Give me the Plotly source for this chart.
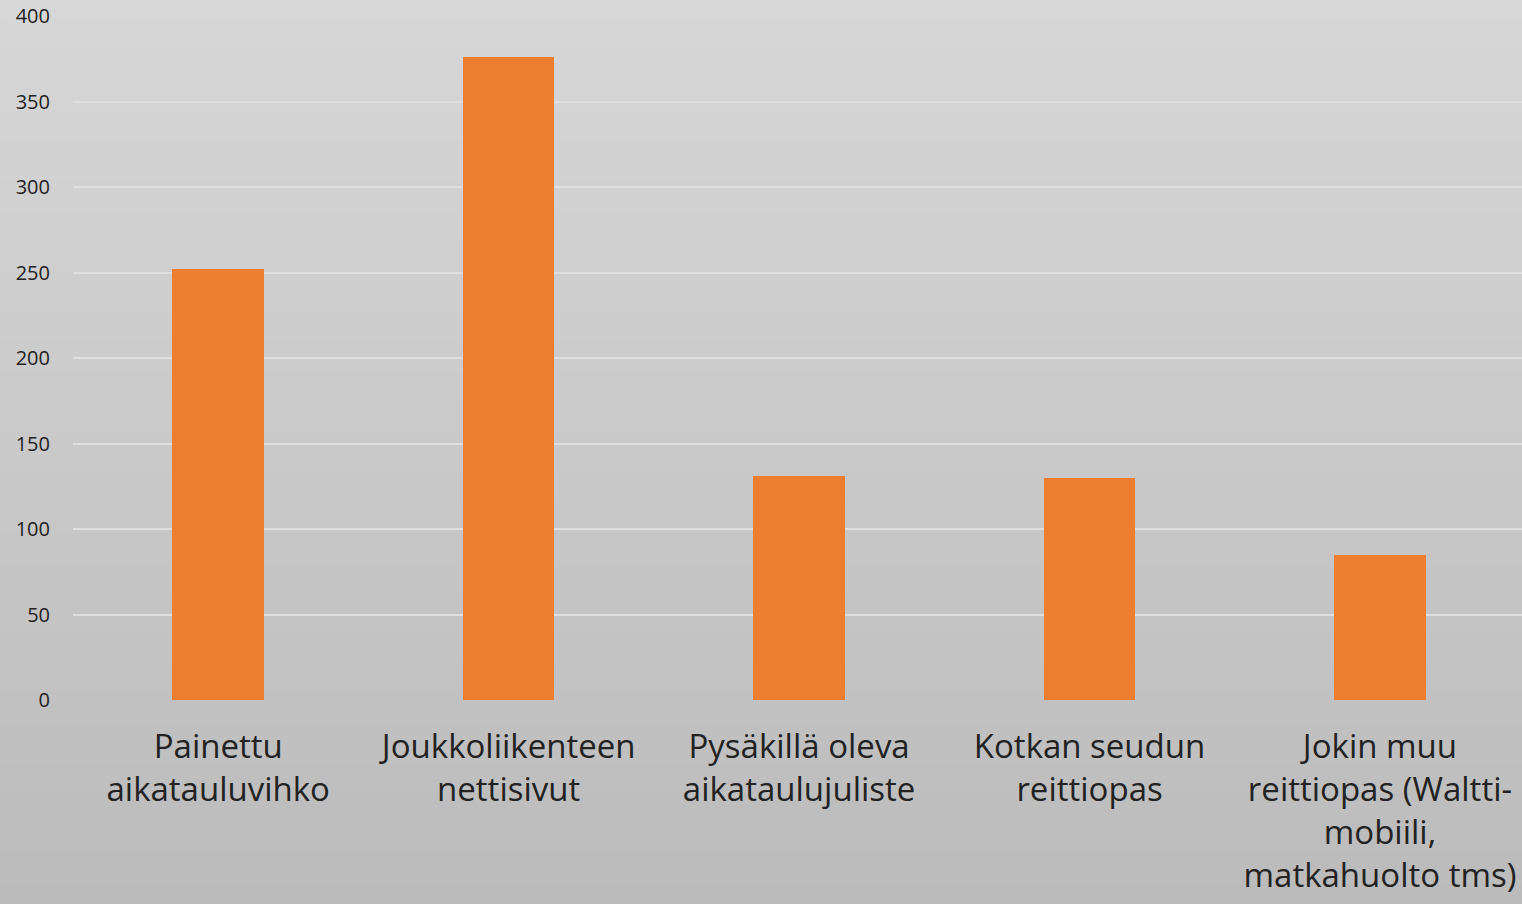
import plotly.graph_objects as go

categories = [
    "Painettu<br>aikatauluvihko",
    "Joukkoliikenteen<br>nettisivut",
    "Pysäkillä oleva<br>aikataulujuliste",
    "Kotkan seudun<br>reittiopas",
    "Jokin muu<br>reittiopas (Waltti-<br>mobiili,<br>matkahuolto tms)",
]
values = [252, 376, 131, 130, 85]
y_ticks = [0, 50, 100, 150, 200, 250, 300, 350, 400]

fig = go.Figure()
fig.add_trace(go.Bar(
    x=list(range(len(categories))),
    y=values,
    width=0.315,
    marker=dict(color="#ED7D31", line=dict(width=0)),
    hoverinfo="skip",
))

# gradient background bands
shapes = []
n = 90
top_c = (0xD7, 0xD7, 0xD7)
bot_c = (0xBB, 0xBB, 0xBB)
H = 904
t, b = 16, 204
ph = H - t - b
for i in range(n):
    y0px = H * i / n
    y1px = H * (i + 1) / n + 1
    f = (i + 0.5) / n
    c = tuple(int(round(top_c[k] + (bot_c[k] - top_c[k]) * f)) for k in range(3))
    p0 = (H - b - y0px) / ph
    p1 = (H - b - y1px) / ph
    shapes.append(dict(type="rect", xref="paper", yref="paper",
                       x0=-0.2, x1=1.2, y0=p1, y1=p0,
                       fillcolor="rgb(%d,%d,%d)" % c, line=dict(width=0),
                       layer="below"))

fig.update_layout(
    width=1522, height=904,
    margin=dict(l=73, r=0, t=t, b=b, pad=0),
    paper_bgcolor="#C9C9C9",
    plot_bgcolor="rgba(0,0,0,0)",
    shapes=shapes,
    showlegend=False,
    bargap=0,
    font=dict(family="Open Sans", color="#262626"),
    xaxis=dict(
        tickmode="array",
        tickvals=list(range(len(categories))),
        ticktext=categories,
        range=[-0.5, 4.489],
        showgrid=False,
        zeroline=False,
        showline=False,
        ticks="",
        tickangle=0,
        tickfont=dict(size=33, color="#222222", family="Open Sans"),
        ticklabelstandoff=24,
    ),
    yaxis=dict(
        range=[0, 400],
        tickmode="array",
        tickvals=y_ticks,
        showgrid=True,
        gridcolor="#DFDFDF",
        gridwidth=1.5,
        zeroline=False,
        showline=False,
        ticks="",
        tickfont=dict(size=20, color="#222222", family="Open Sans"),
        ticklabelstandoff=22,
    ),
)

fig.write_html(
    "out.html",
    config={"displayModeBar": False},
    post_script="document.body.style.margin='0';document.body.style.overflow='hidden';",
)
